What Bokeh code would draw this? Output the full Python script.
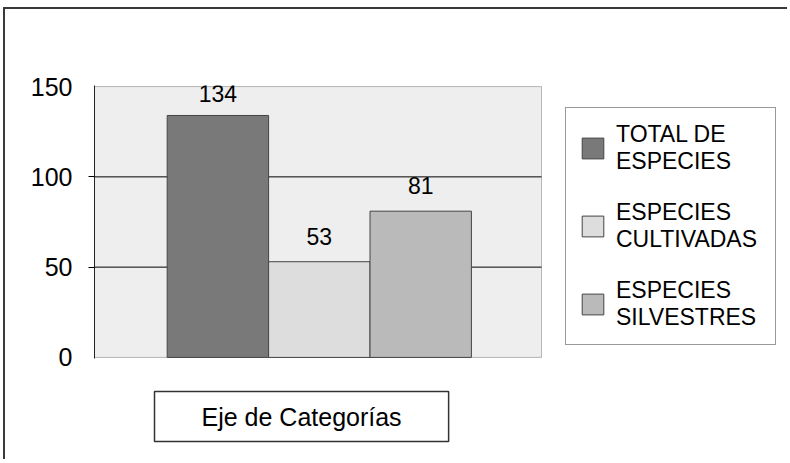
from bokeh.plotting import figure
from bokeh.models import (Range1d, FixedTicker, LinearAxis, LabelSet, ColumnDataSource,
                          Legend, LegendItem, Title, BoxAnnotation)
from bokeh.core.properties import value
from bokeh.embed import file_html
from bokeh.resources import INLINE

# ---- data ----
series = ["TOTAL DE\nESPECIES", "ESPECIES\nCULTIVADAS", "ESPECIES\nSILVESTRES"]
counts = [134, 53, 81]
y_ticks = [0, 50, 100, 150]
category_label = "Eje de Categorías"
colors = ["#797979", "#dddddd", "#bababa"]

FONT = "Liberation Sans"
VAL_SIZE = 23

W, H = 784, 452
OX, OY = 5, 9                  # canvas origin on the page (after the css border)
PLOT_L, PLOT_T = 94, 86        # plot area, page px
PLOT_W, PLOT_H = 447, 271
BAR_PX = 101.4                 # one category slot in px
Y_PAD = 0.6                    # keep the plot-area border inside the frame

px_per_unit = PLOT_H / y_ticks[-1]
pad_px = Y_PAD * px_per_unit
FL = PLOT_L - OX
FT = round(PLOT_T - pad_px) - OY
FH = round(PLOT_H + 2 * pad_px)
FW = W - FL

x_start = 0.5 - (166.7 - PLOT_L) / BAR_PX
plot_x_end = x_start + PLOT_W / BAR_PX
x_end = x_start + FW / BAR_PX

cap = 0.716 * VAL_SIZE
offsets = [min(17, (y_ticks[-1] + Y_PAD - v) * px_per_unit - cap) for v in counts]

pos = list(range(1, len(counts) + 1))
src = ColumnDataSource(dict(x=pos, top=counts, color=colors, off=offsets,
                            label=[str(c) for c in counts]))

p = figure(width=W, height=H, output_backend="svg", toolbar_location=None,
           x_range=Range1d(x_start, x_end),
           y_range=Range1d(-Y_PAD, y_ticks[-1] + Y_PAD),
           min_border_left=FL, min_border_right=0,
           min_border_top=FT, min_border_bottom=H - FT - FH,
           background_fill_color="white", border_fill_color="white",
           outline_line_color=None,
           styles={"position": "relative", "left": "3px", "top": "7px",
                   "border-top": "2px solid #3a3a3a",
                   "border-left": "2px solid #3a3a3a"})

# plot area background and border
area = BoxAnnotation(left=x_start, right=plot_x_end, bottom=y_ticks[0], top=y_ticks[-1],
                     fill_color="#eeeeee", fill_alpha=1,
                     line_color="#222222", line_width=1, level="image")
p.add_layout(area)

# horizontal grid lines, limited to the plot area
inner = y_ticks[1:-1]
p.segment(x0=[x_start] * len(inner), x1=[plot_x_end] * len(inner), y0=inner, y1=inner,
          line_color="black", line_width=1)

r = p.vbar(x="x", top="top", bottom=0, width=1.0, source=src,
           fill_color="color", line_color="#444444", line_width=1)

p.xgrid.visible = False
p.ygrid.visible = False

# x axis: one invisible tick, used only as a spacer above the category box
xa = p.xaxis[0]
xa.ticker = FixedTicker(ticks=[pos[0]])
xa.major_label_overrides = {pos[0]: ""}
xa.major_label_text_font_size = "1px"
xa.major_tick_out = 33
xa.major_tick_in = 0
xa.minor_tick_out = 0
xa.minor_tick_in = 0
xa.major_tick_line_color = "white"
xa.minor_tick_line_color = None
xa.axis_line_color = None
xa.major_label_standoff = 0

tick_axis = p.yaxis[0]
tick_axis.ticker = FixedTicker(ticks=inner)
tick_axis.major_tick_out = 6
tick_axis.major_tick_in = 0
tick_axis.minor_tick_out = 0
tick_axis.minor_tick_in = 0
tick_axis.major_tick_line_color = "black"
tick_axis.axis_line_color = "#222222"
tick_axis.major_label_overrides = {t: "" for t in inner}
tick_axis.major_label_standoff = 0

label_axis = LinearAxis(ticker=FixedTicker(ticks=y_ticks),
                        major_tick_out=0, major_tick_in=0,
                        minor_tick_out=0, minor_tick_in=0,
                        axis_line_color=None, major_label_standoff=16,
                        major_label_text_font=FONT,
                        major_label_text_font_size="25px",
                        major_label_text_color="black")
p.add_layout(label_axis, "left")

labels = LabelSet(x="x", y="top", text="label", source=src,
                  text_align="center", text_baseline="alphabetic", y_offset="off",
                  text_font=value(FONT), text_font_size=f"{VAL_SIZE}px",
                  text_color="black")
p.add_layout(labels)

items = [LegendItem(label=series[i], renderers=[r], index=i) for i in range(len(series))]
legend = Legend(items=items, location=(565 - PLOT_L, 13), margin=0, padding=13, spacing=24,
                glyph_width=27, glyph_height=26, label_standoff=10, label_width=146,
                label_text_font=FONT, label_text_font_size="23px",
                label_text_color="black",
                border_line_color="#333333", border_line_width=1.5,
                background_fill_color="white", background_fill_alpha=1)
p.add_layout(legend)

cat = Title(text=category_label, align="left", offset=60, vertical_align="top",
            standoff=0, text_font=FONT, text_font_size="25px",
            text_font_style="normal", text_color="black",
            padding=dict(left=47, right=47, top=11, bottom=11),
            border_line_color="#333333", border_line_width=1.5,
            background_fill_color="white")
p.add_layout(cat, "below")

open("out.html", "w").write(file_html(p, INLINE))
